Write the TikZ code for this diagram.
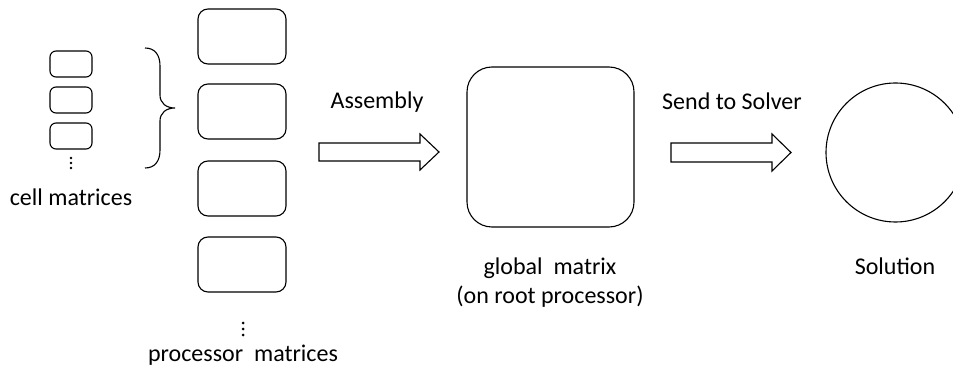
\documentclass[tikz,border=0pt]{standalone}
\usepackage{fontspec}
\setmainfont{Carlito}
\begin{document}
\begin{tikzpicture}[x=1pt,y=-1pt,
  line width=1.1pt,
  lbl/.style={font=\fontsize{24}{29}\selectfont, inner sep=0pt, align=center},
  cellbox/.style={draw, rounded corners=6pt, minimum width=42pt, minimum height=26pt, inner sep=0pt},
  procbox/.style={draw, rounded corners=10pt, minimum width=88pt, minimum height=55pt, inner sep=0pt},
  globbox/.style={draw, rounded corners=25pt, minimum width=167pt, minimum height=160pt, inner sep=0pt},
  solcirc/.style={draw, circle, minimum size=139pt, inner sep=0pt},
  dot/.style={fill, circle, inner sep=0pt, minimum size=#1},
  blockarrow/.style={draw, line join=miter}
]
\useasboundingbox (0,0) rectangle (953,374);

% cell matrices
\node[cellbox] (c1) at (71,64) {};
\node[cellbox] (c2) at (71,100) {};
\node[cellbox] (c3) at (71,136) {};
\node[dot=2.6pt] (cd1) at (71,158) {};
\node[dot=2.6pt] (cd2) at (71,163) {};
\node[dot=2.6pt] (cd3) at (71,168) {};
\node[lbl] (clbl) at (71,197) {cell matrices};

% brace grouping the cell matrices
\draw (145,48) .. controls (155,48) and (160,55) .. (160,66) -- (160,95)
  .. controls (160,103) and (166,108) .. (175,108)
  .. controls (166,108) and (160,113) .. (160,121) -- (160,150)
  .. controls (160,161) and (155,168) .. (145,168);

% processor matrices
\node[procbox] (p1) at (242,36.5) {};
\node[procbox] (p2) at (242,111.5) {};
\node[procbox] (p3) at (242,188.5) {};
\node[procbox] (p4) at (242,264.5) {};
\node[dot=3pt] (pd1) at (243,323) {};
\node[dot=3pt] (pd2) at (243,329) {};
\node[dot=3pt] (pd3) at (243,335) {};
\node[lbl] (plbl) at (243,355) {processor\ \ matrices};

% assembly arrow
\node[lbl] (alb) at (377,102) {Assembly};
\draw[blockarrow] (319,143) -- (420,143) -- (420,134) -- (439,152) -- (420,170) -- (420,161) -- (319,161) -- cycle;

% global matrix
\node[globbox] (g) at (550.5,147) {};
\node[lbl] (glbl) at (550,283) {global\ \ matrix\\(on root processor)};

% send-to-solver arrow
\node[lbl] (slb) at (732,101) {Send to Solver};
\draw[blockarrow] (671,143) -- (772,143) -- (772,134) -- (791,152.5) -- (772,171) -- (772,162) -- (671,162) -- cycle;

% solution
\node[solcirc] (s) at (895.5,152.5) {};
\node[lbl] (solbl) at (895,266) {Solution};
\end{tikzpicture}
\end{document}
